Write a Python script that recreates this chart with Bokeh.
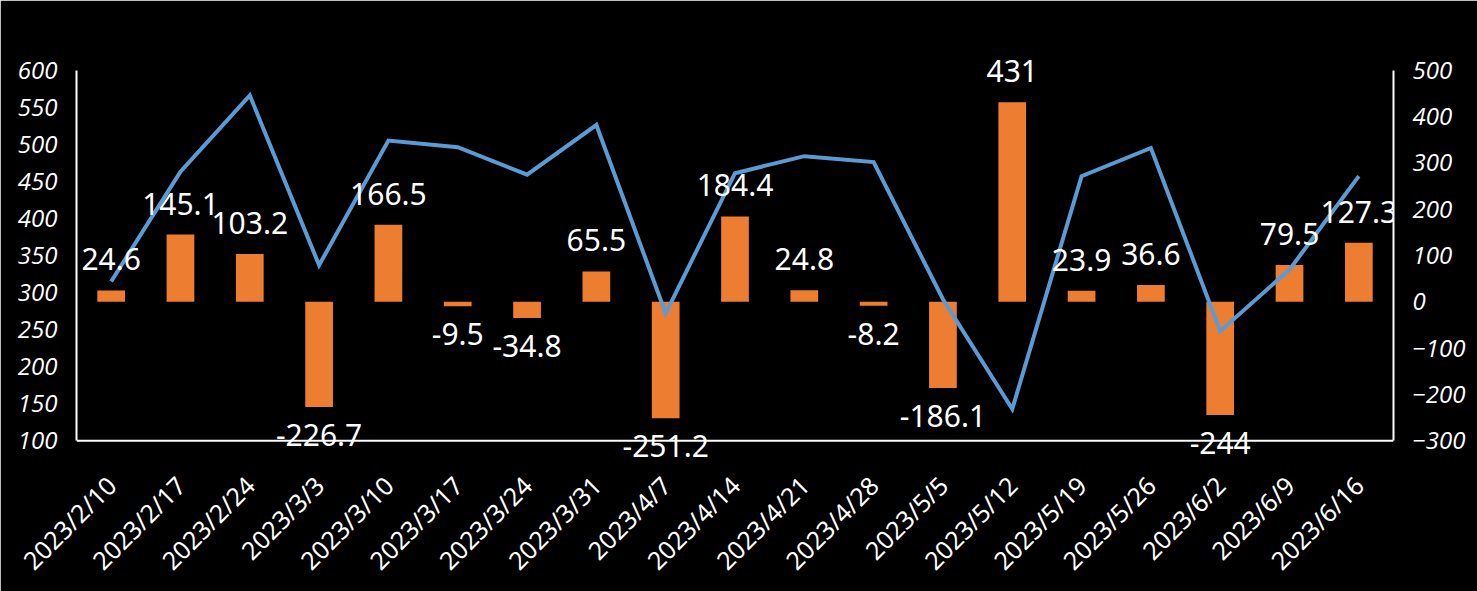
import math
from bokeh.plotting import figure
from bokeh.models import (Range1d, LinearAxis, ColumnDataSource, SingleIntervalTicker,
                          FactorRange, Label, Span)
from bokeh.embed import file_html
from bokeh.resources import INLINE

categories = ["2023/2/10", "2023/2/17", "2023/2/24", "2023/3/3", "2023/3/10", "2023/3/17",
              "2023/3/24", "2023/3/31", "2023/4/7", "2023/4/14", "2023/4/21", "2023/4/28",
              "2023/5/5", "2023/5/12", "2023/5/19", "2023/5/26", "2023/6/2", "2023/6/9", "2023/6/16"]
bar_values = [24.6, 145.1, 103.2, -226.7, 166.5, -9.5, -34.8, 65.5, -251.2, 184.4, 24.8, -8.2,
              -186.1, 431, 23.9, 36.6, -244, 79.5, 127.3]
line_values = [315, 463, 566, 337, 505, 496, 459, 526, 272, 461, 484, 476,
               291, 143, 457, 495, 248, 331, 457]

left_min, left_max = 100, 600
right_min, right_max = -300, 500

FONT = "Noto Sans"
TICK_FONT = "Open Sans"

# the drawing area reaches a little beyond the axis lines (above and below) so that
# the data labels are not clipped; both scales keep the same ratio
EXTRA_LEFT = 40
EXTRA_RIGHT = EXTRA_LEFT * (right_max - right_min) / (left_max - left_min)

p = figure(x_range=FactorRange(factors=categories, range_padding=0),
           y_range=Range1d(left_min - EXTRA_LEFT, left_max + EXTRA_LEFT),
           width=1477, height=591, output_backend="svg", toolbar_location=None,
           min_border_left=76, min_border_right=84, min_border_top=40, min_border_bottom=119)
p.extra_y_ranges = {"right": Range1d(right_min - EXTRA_RIGHT, right_max + EXTRA_RIGHT)}

p.background_fill_color = "black"
p.border_fill_color = "black"
p.outline_line_color = "black"
p.outline_line_width = 3
p.xgrid.grid_line_color = None
p.ygrid.grid_line_color = None

# bars on right axis
bar_src = ColumnDataSource(dict(x=categories, top=bar_values))
p.vbar(x="x", top="top", bottom=0, width=0.4, source=bar_src, y_range_name="right",
       fill_color="#ED7D31", line_color=None)

# line on left axis
line_src = ColumnDataSource(dict(x=categories, y=line_values))
p.line(x="x", y="y", source=line_src, line_color="#5B9BD5", line_width=4, line_join="miter")

# horizontal axis line at the bottom of the value scale
p.add_layout(Span(location=left_min, dimension="width", line_color="white", line_width=2))

# data labels; a categorical factor i sits at synthetic coordinate i + 0.5
for i, v in enumerate(bar_values):
    p.add_layout(Label(x=i + 0.5, y=v, text=f"{v:g}", y_range_name="right",
                       y_offset=31 if v >= 0 else -28,
                       text_align="center", text_baseline="alphabetic",
                       text_color="white", text_font=FONT, text_font_size="30px",
                       level="overlay"))

# axes
def style_axis(ax, size, font):
    ax.axis_line_color = "white"
    ax.axis_line_width = 2
    ax.major_tick_line_color = None
    ax.minor_tick_line_color = None
    ax.major_tick_in = 0
    ax.major_tick_out = 0
    ax.major_label_text_color = "white"
    ax.major_label_text_font = font
    ax.major_label_text_font_size = size

left = p.yaxis[0]
left.ticker = SingleIntervalTicker(interval=50)
left.bounds = (left_min, left_max)
style_axis(left, "24px", TICK_FONT)
left.major_label_text_font_style = "italic"
left.major_label_standoff = 15

right = LinearAxis(y_range_name="right", ticker=SingleIntervalTicker(interval=100),
                   bounds=(right_min, right_max))
style_axis(right, "24px", TICK_FONT)
right.major_label_text_font_style = "italic"
right.major_label_standoff = 15
p.add_layout(right, "right")

xa = p.xaxis[0]
style_axis(xa, "25px", FONT)
xa.axis_line_color = None
xa.major_label_orientation = math.pi / 4
xa.major_label_standoff = 10

open("out.html", "w").write(file_html(p, INLINE))
